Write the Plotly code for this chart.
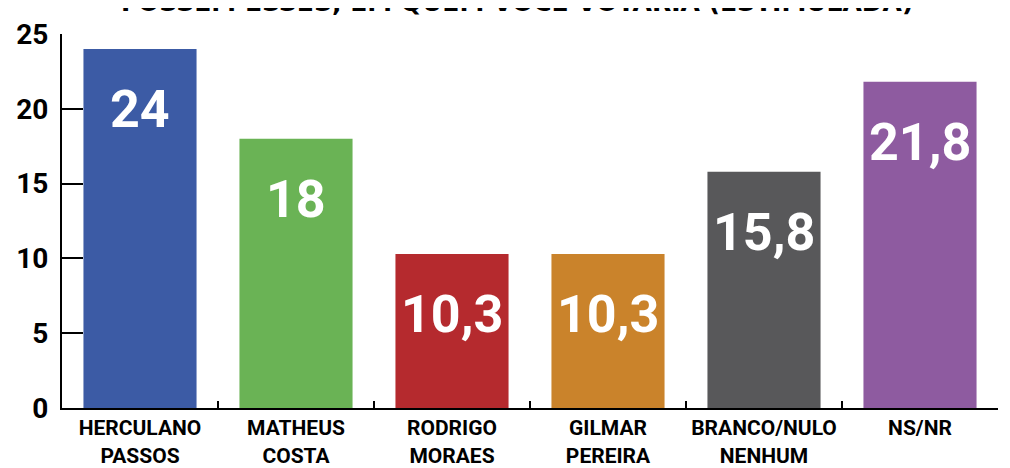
import plotly.graph_objects as go

categories = ["HERCULANO<br>PASSOS", "MATHEUS<br>COSTA", "RODRIGO<br>MORAES",
              "GILMAR<br>PEREIRA", "BRANCO/NULO<br>NENHUM", "NS/NR"]
values = [24, 18, 10.3, 10.3, 15.8, 21.8]
value_labels = ["24", "18", "10,3", "10,3", "15,8", "21,8"]
colors = ["#3C5BA5", "#6AB355", "#B52A2E", "#CA832B", "#58585A", "#8E5BA0"]
y_ticks = [0, 5, 10, 15, 20, 25]
title_text = "FOSSEM ESSES, EM QUEM VOCÊ VOTARIA (ESTIMULADA)"

FONT = "Roboto, Liberation Sans, sans-serif"

fig = go.Figure(go.Bar(
    x=categories, y=values, marker=dict(color=colors, line=dict(width=0)),
    hoverinfo="skip",
))

for c, v, t in zip(categories, values, value_labels):
    fig.add_annotation(x=c, y=v, xref="x", yref="y", text=t, showarrow=False,
                       yanchor="top", yshift=-28,
                       font=dict(family=FONT, size=52, color="white", weight="bold"))

fig.add_annotation(x=0.5, y=1, xref="paper", yref="paper", text=title_text,
                   showarrow=False, yanchor="bottom", yshift=15, xshift=-13,
                   font=dict(family="DejaVu Sans, sans-serif", size=25, color="black", weight="bold"))

fig.update_layout(
    width=1010, height=468,
    margin=dict(l=54, r=20, t=26, b=68, autoexpand=False),
    plot_bgcolor="white", paper_bgcolor="white",
    bargap=0.275, showlegend=False,
    font=dict(family=FONT, color="black"),
)
fig.update_xaxes(
    range=[-0.5, 5.5], showline=True, linecolor="black", linewidth=2,
    ticks="inside", tickson="boundaries", ticklen=7, tickwidth=2, tickcolor="black",
    tickfont=dict(family=FONT, size=21, color="black", weight="bold"),
    tickangle=0, automargin=False,
    showgrid=False, zeroline=False,
)
fig.update_yaxes(
    range=[0, 25], tickvals=y_ticks, showline=True, linecolor="black", linewidth=2,
    ticks="inside", ticklen=21, tickwidth=2, tickcolor="black",
    tickfont=dict(family=FONT, size=28, color="black", weight="bold"),
    ticklabelstandoff=6, automargin=False,
    showgrid=False, zeroline=False,
)

fig.write_html("out.html")
